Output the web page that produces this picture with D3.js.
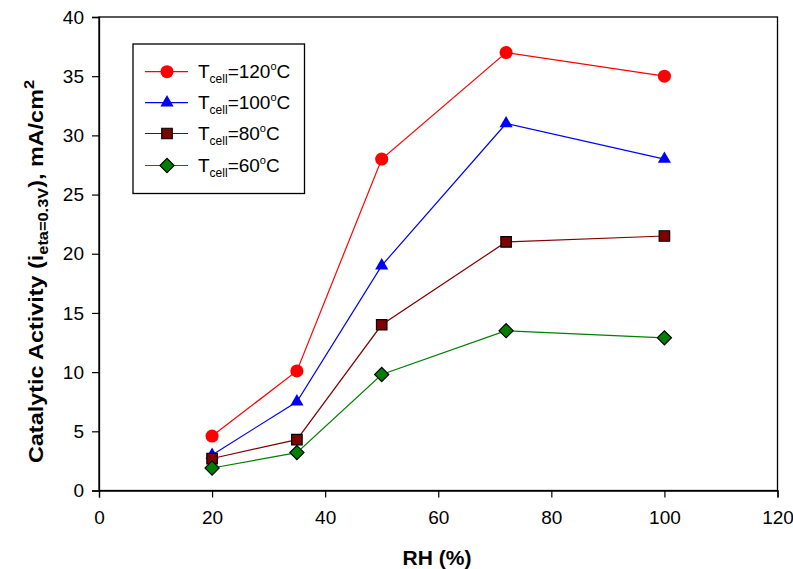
<!DOCTYPE html>
<html><head><meta charset="utf-8">
<script src="https://cdn.jsdelivr.net/npm/d3@7"></script>
<style>body{margin:0;background:#fff}svg{display:block;font-family:"Liberation Sans",Arial,sans-serif}</style>
</head><body>
<svg id="c" width="793" height="569"></svg>
<script>
const rh = [20, 35, 50, 72, 100];
const t120 = [4.6, 10.1, 28, 37, 35];
const t100 = [3.0, 7.5, 19, 31, 28];
const t80 = [2.7, 4.3, 14, 21, 21.5];
const t60 = [1.9, 3.2, 9.8, 13.5, 12.9];
const xTicks = [0, 20, 40, 60, 80, 100, 120];
const yTicks = [0, 5, 10, 15, 20, 25, 30, 35, 40];
const seriesNames = ["120", "100", "80", "60"];

const series = [
  {name: seriesNames[0], vals: t120, color: "#ff0000", fill: "#ff0000", stroke: "none", sym: d3.symbolCircle, size: 135, rot: 0},
  {name: seriesNames[1], vals: t100, color: "#0000ff", fill: "#0000ff", stroke: "none", sym: d3.symbolTriangle, size: 75, rot: 0},
  {name: seriesNames[2], vals: t80, color: "#800000", fill: "#800000", stroke: "#000", sym: d3.symbolSquare, size: 110, rot: 0},
  {name: seriesNames[3], vals: t60, color: "#008000", fill: "#008000", stroke: "#000", sym: d3.symbolSquare, size: 100, rot: 45}
];

const svg = d3.select("#c");
const L = 99, R = 777.5, T = 17, B = 490.5;
const x = d3.scaleLinear().domain([0, 120]).range([L, R]);
const y = d3.scaleLinear().domain([0, 40]).range([B, T]);

svg.append("rect").attr("x", L).attr("y", T).attr("width", R - L).attr("height", B - T)
  .attr("fill", "none").attr("stroke", "#000").attr("stroke-width", 1.3);

const xa = svg.append("g").attr("transform", `translate(0,${B})`)
  .call(d3.axisBottom(x).tickValues(xTicks).tickSize(7).tickPadding(13).tickFormat(d3.format("d")));
const ya = svg.append("g").attr("transform", `translate(${L},0)`)
  .call(d3.axisLeft(y).tickValues(yTicks).tickSize(7).tickPadding(8).tickFormat(d3.format("d")));
[xa, ya].forEach(a => {
  a.selectAll("text").attr("font-size", 19).attr("fill", "#000").attr("font-family", "Liberation Sans, Arial, sans-serif");
  a.selectAll("line").attr("stroke", "#000").attr("stroke-width", 1.2);
  a.select(".domain").attr("stroke", "#000").attr("stroke-width", 1.3);
});

const line = d3.line().x(d => x(d[0])).y(d => y(d[1]));
series.forEach(s => {
  const pts = rh.map((r, i) => [r, s.vals[i]]);
  svg.append("path").attr("d", line(pts)).attr("fill", "none").attr("stroke", s.color).attr("stroke-width", 1.2);
});
series.forEach(s => {
  const pts = rh.map((r, i) => [r, s.vals[i]]);
  svg.selectAll(null).data(pts).enter().append("path")
    .attr("d", d3.symbol().type(s.sym).size(s.size))
    .attr("transform", d => `translate(${x(d[0])},${y(d[1])}) rotate(${s.rot})`)
    .attr("fill", s.fill).attr("stroke", s.stroke).attr("stroke-width", 1.2);
});

// legend
svg.append("rect").attr("x", 133).attr("y", 44).attr("width", 171.5).attr("height", 149.5)
  .attr("fill", "#fff").attr("stroke", "#000").attr("stroke-width", 1.3);
const ly = [71.7, 102.7, 133.5, 165.5];
series.forEach((s, i) => {
  const g = svg.append("g").attr("transform", `translate(0,${ly[i]})`);
  g.append("line").attr("x1", 145).attr("x2", 188).attr("y1", 0).attr("y2", 0).attr("stroke", s.color).attr("stroke-width", 1.2);
  g.append("path").attr("d", d3.symbol().type(s.sym).size(s.size)).attr("transform", `translate(167,0) rotate(${s.rot})`)
    .attr("fill", s.fill).attr("stroke", s.stroke).attr("stroke-width", 1.2);
  const t = g.append("text").attr("x", 198).attr("y", 6).attr("font-size", 19).attr("fill", "#000");
  t.append("tspan").text("T");
  t.append("tspan").attr("font-size", 12).attr("dy", 5).text("cell");
  t.append("tspan").attr("dy", -5).text("=" + s.name);
  t.append("tspan").attr("font-size", 11).attr("dy", -8).text("o");
  t.append("tspan").attr("dy", 8).text("C");
});

// axis titles
svg.append("text").attr("x", 437).attr("y", 565).attr("text-anchor", "middle")
  .attr("font-size", 21).attr("font-weight", "bold").text("RH (%)");
const yt = svg.append("text").attr("transform", "translate(43,271.5) rotate(-90) scale(1.17,1)").attr("text-anchor", "middle")
  .attr("font-size", 20).attr("font-weight", "bold");
yt.append("tspan").text("Catalytic Activity (i");
yt.append("tspan").attr("font-size", 14).attr("dy", 5).text("eta=0.3V");
yt.append("tspan").attr("dy", -5).text("), mA/cm");
yt.append("tspan").attr("font-size", 14).attr("dy", -9).text("2");
</script>
</body></html>
